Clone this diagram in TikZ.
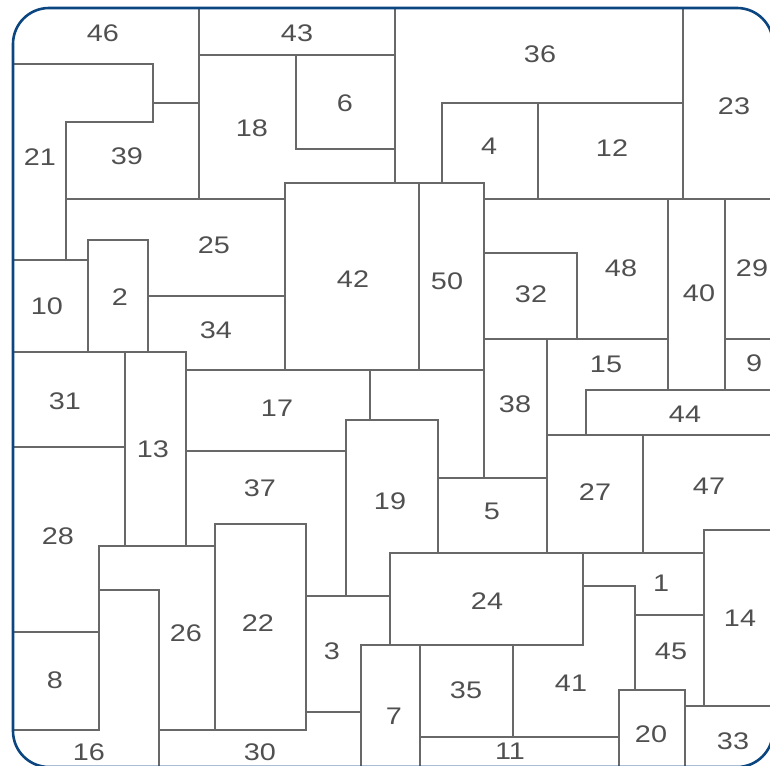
\documentclass[tikz,border=0pt]{standalone}
\usepackage{fontspec}
\setmainfont{Liberation Sans}[FakeStretch=1.2]
\definecolor{wallgray}{HTML}{686868}
\definecolor{txtgray}{HTML}{505050}
\definecolor{frameblue}{HTML}{0C4680}
\begin{document}
\begin{tikzpicture}[x=1pt,y=-1pt,
  wall/.style={draw=wallgray, line width=1.9pt, line cap=rect},
  lbl/.style={text=txtgray, font=\fontsize{24}{24}\selectfont, inner sep=0pt},
  frame/.style={draw=frameblue, line width=2.6pt}]
\useasboundingbox (0,0) rectangle (770,765);
\begin{scope}
\clip (0,0) rectangle (770,765);
% top-left area
\draw[wall] (199,8) -- (199,199);
\draw[wall] (13,64) -- (153,64) -- (153,122) -- (66,122) -- (66,260);
\draw[wall] (153,103) -- (199,103);
\draw[wall] (199,55) -- (395,55);
\draw[wall] (395,8) -- (395,183);
\draw[wall] (296,55) -- (296,149) -- (395,149);
% top-right
\draw[wall] (683,8) -- (683,199);
\draw[wall] (442,183) -- (442,103) -- (683,103);
\draw[wall] (538,103) -- (538,199);
% middle band
\draw[wall] (66,199) -- (285,199);
\draw[wall] (285,370) -- (285,183) -- (484,183) -- (484,478);
\draw[wall] (419,183) -- (419,370);
\draw[wall] (484,199) -- (770,199);
\draw[wall] (13,260) -- (88,260);
\draw[wall] (88,352) -- (88,240) -- (148,240) -- (148,352);
\draw[wall] (148,296) -- (285,296);
\draw[wall] (186,370) -- (484,370);
\draw[wall] (13,352) -- (186,352);
\draw[wall] (125,352) -- (125,546);
\draw[wall] (186,352) -- (186,546);
\draw[wall] (13,447) -- (125,447);
\draw[wall] (186,451) -- (346,451);
\draw[wall] (484,253) -- (577,253) -- (577,339);
\draw[wall] (484,339) -- (668,339);
\draw[wall] (668,199) -- (668,390);
\draw[wall] (725,199) -- (725,390);
\draw[wall] (725,339) -- (770,339);
\draw[wall] (547,339) -- (547,553);
\draw[wall] (586,435) -- (586,390) -- (770,390);
\draw[wall] (547,435) -- (770,435);
\draw[wall] (643,435) -- (643,553);
\draw[wall] (370,370) -- (370,420);
\draw[wall] (346,596) -- (346,420) -- (438,420) -- (438,553);
\draw[wall] (438,478) -- (547,478);
% lower right
\draw[wall] (390,645) -- (390,553) -- (704,553);
\draw[wall] (704,706) -- (704,530) -- (770,530);
\draw[wall] (583,553) -- (583,645);
\draw[wall] (583,586) -- (635,586) -- (635,690);
\draw[wall] (635,615) -- (704,615);
\draw[wall] (619,765) -- (619,690) -- (685,690) -- (685,765);
\draw[wall] (685,706) -- (770,706);
\draw[wall] (361,645) -- (583,645);
\draw[wall] (361,645) -- (361,765);
\draw[wall] (420,645) -- (420,765);
\draw[wall] (513,645) -- (513,737);
\draw[wall] (420,737) -- (619,737);
% lower left
\draw[wall] (306,524) -- (306,730);
\draw[wall] (215,730) -- (215,524) -- (306,524);
\draw[wall] (306,596) -- (390,596);
\draw[wall] (306,712) -- (361,712);
\draw[wall] (159,730) -- (306,730);
\draw[wall] (99,546) -- (215,546);
\draw[wall] (99,546) -- (99,730);
\draw[wall] (13,632) -- (99,632);
\draw[wall] (13,730) -- (99,730);
\draw[wall] (99,590) -- (159,590) -- (159,765);
% labels
\node[lbl] (n46) at (103,33) {46};
\node[lbl] (n43) at (297,33) {43};
\node[lbl] (n36) at (540,54) {36};
\node[lbl] (n23) at (734,106) {23};
\node[lbl] (n6) at (345,103) {6};
\node[lbl] (n18) at (252,128) {18};
\node[lbl] (n21) at (40,157) {21};
\node[lbl] (n39) at (127,156) {39};
\node[lbl] (n4) at (489,146) {4};
\node[lbl] (n12) at (612,148) {12};
\node[lbl] (n25) at (214,245) {25};
\node[lbl] (n42) at (353,279) {42};
\node[lbl] (n50) at (447,281) {50};
\node[lbl] (n32) at (531,294) {32};
\node[lbl] (n48) at (621,268) {48};
\node[lbl] (n40) at (699,293) {40};
\node[lbl] (n29) at (752,268) {29};
\node[lbl] (n10) at (47,306) {10};
\node[lbl] (n2) at (120,297) {2};
\node[lbl] (n34) at (216,330) {34};
\node[lbl] (n15) at (606,364) {15};
\node[lbl] (n9) at (754,363) {9};
\node[lbl] (n31) at (65,401) {31};
\node[lbl] (n13) at (153,449) {13};
\node[lbl] (n17) at (277,408) {17};
\node[lbl] (n38) at (515,404) {38};
\node[lbl] (n44) at (685,414) {44};
\node[lbl] (n37) at (260,488) {37};
\node[lbl] (n19) at (390,501) {19};
\node[lbl] (n5) at (492,511) {5};
\node[lbl] (n27) at (595,492) {27};
\node[lbl] (n47) at (709,486) {47};
\node[lbl] (n28) at (58,536) {28};
\node[lbl] (n1) at (661,583) {1};
\node[lbl] (n24) at (487,601) {24};
\node[lbl] (n26) at (186,633) {26};
\node[lbl] (n22) at (258,623) {22};
\node[lbl] (n14) at (740,618) {14};
\node[lbl] (n3) at (332,651) {3};
\node[lbl] (n45) at (671,651) {45};
\node[lbl] (n8) at (55,680) {8};
\node[lbl] (n35) at (466,690) {35};
\node[lbl] (n41) at (571,683) {41};
\node[lbl] (n7) at (394,716) {7};
\node[lbl] (n20) at (651,734) {20};
\node[lbl] (n33) at (733,741) {33};
\node[lbl] (n16) at (89,752) {16};
\node[lbl] (n30) at (260,752) {30};
\node[lbl] (n11) at (510,751) {11};
% frame
\draw[frame, rounded corners=36pt] (13,8) rectangle (773,767);
\end{scope}
\end{tikzpicture}
\end{document}
